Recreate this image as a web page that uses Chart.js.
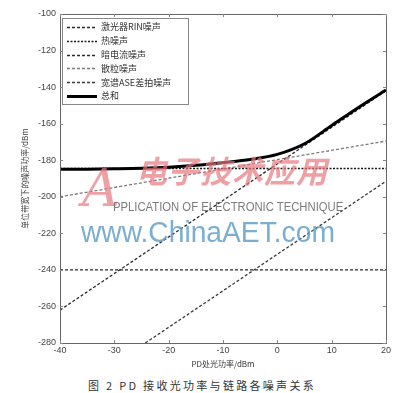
<!DOCTYPE html>
<html>
<head>
<meta charset="utf-8">
<script src="https://cdn.jsdelivr.net/npm/chart.js@4.4.1/dist/chart.umd.min.js"></script>
<style>
  html, body { margin: 0; padding: 0; background: #fff; }
  #wrap { position: relative; width: 404px; height: 393px; overflow: hidden; background: #fff; }
  #cbox { position: absolute; left: 0; top: 0; width: 404px; height: 372px; }
  .wm { position: absolute; white-space: nowrap; pointer-events: none; }
  #caption { position: absolute; left: 0; width: 404px; top: 377px; text-align: center;
    font-family: "Noto Sans CJK SC", sans-serif; font-size: 11px; letter-spacing: 2.3px; color: #333; }
</style>
</head>
<body>
<div id="wrap">
  <div id="cbox"><canvas id="c" width="404" height="372"></canvas></div>
  <div class="wm" style="left:82px;top:158px;font-family:'DejaVu Serif',serif;font-style:italic;font-size:52px;color:rgba(232,120,125,0.7);">A</div>
  <div class="wm" style="left:136px;top:147px;font-family:'Noto Sans CJK SC',sans-serif;font-weight:bold;font-style:italic;font-size:31px;letter-spacing:1px;color:rgba(232,120,125,0.7);">电子技术应用</div>
  <div class="wm" style="left:113px;top:200px;font-family:'Liberation Sans',sans-serif;font-size:12px;color:rgba(110,110,110,0.9);transform:scaleX(0.94);transform-origin:left;">PPLICATION OF ELECTRONIC TECHNIQUE</div>
  <div class="wm" style="left:81px;top:215px;font-family:'Liberation Sans',sans-serif;font-size:30px;color:rgba(100,160,200,0.85);transform:scaleX(0.94);transform-origin:left;">www.ChinaAET.com</div>
  <div id="caption">图 2 PD 接收光功率与链路各噪声关系</div>
</div>
<script>
// ---- data ----
const seriesNames = ["激光器RIN噪声", "热噪声", "暗电流噪声", "散粒噪声", "宽谱ASE差拍噪声", "总和"];
const powerX = [-40, 20];
const rinNoise = [-262, -142];
const thermalNoise = [-184.5, -184.5];
const darkNoise = [-240, -240];
const shotNoise = [-200, -169.5];
const aseX = [-24.3, 20];
const aseNoise = [-280, -191.5];
const totalX = [-40, -35, -30, -25, -20, -15, -10, -5, 0, 5, 10, 15, 20];
const totalNoise = [-185, -184.9, -184.7, -184.4, -183.8, -182.8, -181.3, -179.6, -176.8, -171, -161, -151, -141.6];
const xTicksMin = -40, xTicksMax = 20, xStep = 10;
const yTicksMin = -280, yTicksMax = -100, yStep = 20;
const xTitle = "PD处光功率/dBm";
const yTitle = "单位带宽下的噪声功率/dBm";

const pts = (xs, ys) => xs.map((x, i) => ({ x: x, y: ys[i] }));

const styles = [
  { color: "#2a2a2a", dash: [3, 2], width: 1.3 },
  { color: "#1a1a1a", dash: [2, 1.5], width: 1.5 },
  { color: "#2a2a2a", dash: [3, 2], width: 1.3 },
  { color: "#7a7a7a", dash: [3, 2], width: 1.3 },
  { color: "#3a3a3a", dash: [3, 2], width: 1.3 },
  { color: "#000000", dash: [], width: 3 }
];
const dataSets = [
  pts(powerX, rinNoise),
  pts(powerX, thermalNoise),
  pts(powerX, darkNoise),
  pts(powerX, shotNoise),
  pts(aseX, aseNoise),
  pts(totalX, totalNoise)
];

const datasets = dataSets.map((d, i) => ({
  label: seriesNames[i],
  data: d,
  borderColor: styles[i].color,
  borderDash: styles[i].dash,
  borderWidth: styles[i].width,
  pointRadius: 0,
  fill: false,
  tension: 0,
  cubicInterpolationMode: i === 5 ? "monotone" : "default",
  order: i === 5 ? 0 : 1
}));

const framePlugin = {
  id: "frame",
  afterDraw(chart) {
    const ctx = chart.ctx, a = chart.chartArea;
    const xs = chart.scales.x, ys = chart.scales.y;
    ctx.save();
    ctx.strokeStyle = "#666";
    ctx.lineWidth = 1;
    ctx.setLineDash([]);
    ctx.strokeRect(Math.round(a.left) + 0.5, Math.round(a.top) + 0.5, Math.round(a.right - a.left), Math.round(a.bottom - a.top));
    ctx.strokeStyle = "#888";
    xs.ticks.forEach(t => {
      const px = Math.round(xs.getPixelForValue(t.value)) + 0.5;
      ctx.beginPath(); ctx.moveTo(px, a.bottom); ctx.lineTo(px, a.bottom - 3);
      ctx.moveTo(px, a.top); ctx.lineTo(px, a.top + 3); ctx.stroke();
    });
    ys.ticks.forEach(t => {
      const py = Math.round(ys.getPixelForValue(t.value)) + 0.5;
      ctx.beginPath(); ctx.moveTo(a.left, py); ctx.lineTo(a.left + 3, py);
      ctx.moveTo(a.right, py); ctx.lineTo(a.right - 3, py); ctx.stroke();
    });
    // legend box
    const lx = 62, ly = 18, lw = 126, lh = 86;
    ctx.fillStyle = "#fff";
    ctx.fillRect(lx, ly, lw, lh);
    ctx.strokeStyle = "#888";
    ctx.strokeRect(lx + 0.5, ly + 0.5, lw, lh);
    chart.data.datasets.forEach((ds, i) => {
      const y = 27 + i * 13.8;
      ctx.beginPath();
      ctx.strokeStyle = ds.borderColor;
      ctx.lineWidth = ds.borderWidth;
      ctx.setLineDash(ds.borderDash);
      ctx.moveTo(67, Math.round(y) + 0.5); ctx.lineTo(97, Math.round(y) + 0.5);
      ctx.stroke();
      ctx.setLineDash([]);
      ctx.fillStyle = "#333";
      ctx.font = "9px 'Noto Sans CJK SC'";
      ctx.textBaseline = "middle";
      ctx.fillText(ds.label, 101, y);
    });
    ctx.restore();
  }
};

new Chart(document.getElementById("c"), {
  type: "line",
  data: { datasets: datasets },
  plugins: [framePlugin],
  options: {
    responsive: false,
    animation: false,
    layout: { padding: { left: 20, right: 18, top: 14, bottom: 3 } },
    plugins: { legend: { display: false }, tooltip: { enabled: false } },
    scales: {
      x: {
        type: "linear", min: xTicksMin, max: xTicksMax,
        ticks: { stepSize: xStep, color: "#444", font: { family: "Liberation Sans", size: 9 }, padding: 2, maxRotation: 0 },
        grid: { drawOnChartArea: false, drawTicks: false },
        border: { display: false },
        title: { display: true, text: xTitle, color: "#333", font: { family: "Noto Sans CJK SC", size: 8 }, padding: { top: 1, bottom: 0 } },
        afterFit(s) { s.height = 26; }
      },
      y: {
        type: "linear", min: yTicksMin, max: yTicksMax,
        ticks: { stepSize: yStep, color: "#444", font: { family: "Liberation Sans", size: 9 }, padding: 4 },
        grid: { drawOnChartArea: false, drawTicks: false },
        border: { display: false },
        title: { display: true, text: yTitle, color: "#444", font: { family: "Noto Sans CJK SC", size: 8 }, padding: { top: 0, bottom: 0 } },
        afterFit(s) { s.width = 40; }
      }
    }
  }
});
</script>
</body>
</html>
